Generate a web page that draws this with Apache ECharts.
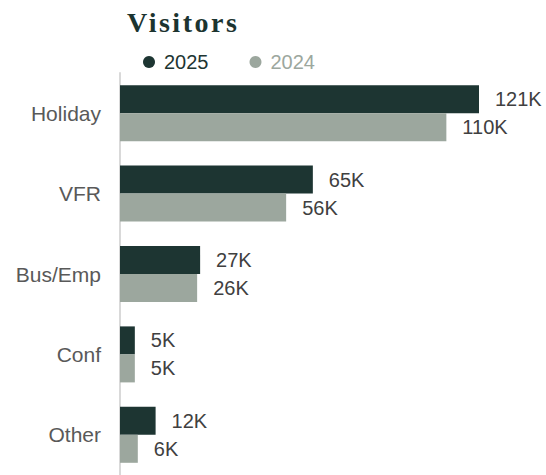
<!DOCTYPE html>
<html>
<head>
<meta charset="utf-8">
<script src="https://cdn.jsdelivr.net/npm/echarts@6/dist/echarts.min.js"></script>
<style>
  html, body { margin: 0; padding: 0; background: #fff; }
  #chart { width: 546px; height: 475px; }
  /* spaced-out serif title */
  #chart text[fill="#1c3430"] { letter-spacing: 2.5px; }
</style>
</head>
<body>
<div id="chart"></div>
<script>
const categories = ['Holiday', 'VFR', 'Bus/Emp', 'Conf', 'Other'];
const visitors2025 = [121, 65, 27, 5, 12];
const visitors2024 = [110, 56, 26, 5, 6];

const dark = '#1d3532';
const grey = '#9ca79e';

const chart = echarts.init(document.getElementById('chart'), null, {renderer: 'svg'});

const barLabel = {
    show: true,
    position: 'right',
    distance: 16,
    color: '#404040',
    fontSize: 20,
    fontFamily: 'Liberation Sans, Arial, sans-serif',
    formatter: p => p.value + 'K'
};

chart.setOption({
    animation: false,
    title: {
        text: 'Visitors',
        left: 122,
        top: 3,
        textStyle: {
            color: '#1c3430',
            fontFamily: 'Liberation Serif, serif',
            fontWeight: 'bold',
            fontSize: 28
        }
    },
    legend: {
        left: 138,
        top: 47,
        icon: 'circle',
        itemWidth: 20,
        itemHeight: 12,
        itemGap: 41,
        textStyle: {fontSize: 20, fontFamily: 'Liberation Sans, Arial, sans-serif'},
        data: [
            {name: '2025', textStyle: {color: dark}},
            {name: '2024', textStyle: {color: grey}}
        ]
    },
    grid: {left: 120, top: 73, width: 359, height: 403, containLabel: false},
    xAxis: {
        type: 'value',
        min: 0,
        max: 121,
        show: false
    },
    yAxis: {
        type: 'category',
        inverse: true,
        data: categories,
        axisLine: {lineStyle: {color: '#d9d9d9', width: 2}},
        axisTick: {show: false},
        axisLabel: {
            margin: 19,
            color: '#595959',
            fontSize: 21,
            fontFamily: 'Liberation Sans, Arial, sans-serif'
        }
    },
    series: [
        {
            name: '2025',
            type: 'bar',
            data: visitors2025,
            barWidth: 28,
            barGap: '0%',
            itemStyle: {color: dark},
            label: barLabel
        },
        {
            name: '2024',
            type: 'bar',
            data: visitors2024,
            barWidth: 28,
            barGap: '0%',
            itemStyle: {color: grey},
            label: barLabel
        }
    ]
});
</script>
</body>
</html>
